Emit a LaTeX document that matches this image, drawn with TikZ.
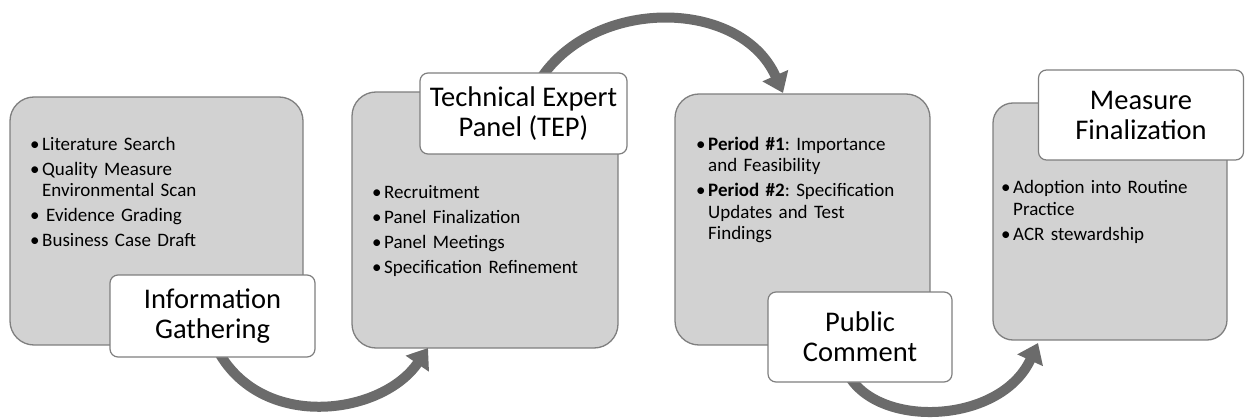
\documentclass[tikz,border=0pt]{standalone}
\usepackage{fontspec}
\setmainfont{Carlito}
\usetikzlibrary{arrows.meta}
\definecolor{boxfill}{HTML}{D2D2D2}
\definecolor{boxline}{HTML}{7F7F7F}
\definecolor{arrowgray}{HTML}{6B6B6B}
\newcommand\bitem[1]{\hangindent=12pt\hangafter=1\noindent\makebox[12pt][l]{\textbullet}#1\par}
\begin{document}
\begin{tikzpicture}[x=1pt,y=1pt,
  graybox/.style={draw=boxline,line width=1.3pt,fill=boxfill,rounded corners=24pt,inner sep=0pt},
  labelbox/.style={draw=boxline,line width=1.2pt,fill=white,rounded corners=8pt,inner sep=0pt,
     align=center,font=\fontsize{28.5}{30}\selectfont},
  bullets/.style={anchor=base west,inner sep=0pt,text width=290pt,align=left,
     font=\fontsize{19}{21.5}\selectfont\frenchspacing},
  flow/.style={line width=10pt,draw=arrowgray,-{Triangle[width=27pt,length=19pt]}}]
\useasboundingbox (0,0) rectangle (1246,418);
% gray boxes
\node[graybox,minimum width=293pt,minimum height=248pt] (box1) at (156.5,197) {};
\node[graybox,minimum width=266pt,minimum height=256pt] (box2) at (485,198) {};
\node[graybox,minimum width=255pt,minimum height=251pt] (box3) at (802.5,198.5) {};
\node[graybox,minimum width=234pt,minimum height=237pt,rounded corners=20pt] (box4) at (1110,196.5) {};
% arcs
\coordinate (a1s) at (212,80);
\coordinate (a1e) at (428,70);
\coordinate (a2s) at (535,330);
\coordinate (a2e) at (783,325);
\coordinate (a3s) at (845,50);
\coordinate (a3e) at (1038,75);
\draw[flow] (a1s) .. controls (250,-15) and (380,0) .. (a1e);
\draw[flow] (a2s) .. controls (585,422) and (740,422) .. (a2e);
\draw[flow] (a3s) .. controls (870,-12) and (1000,-8) .. (a3e);
% bullet texts
\node[bullets] (t1) at (30,267.5) {\setlength\parskip{3.5pt}\bitem{Literature Search}\bitem{Quality Measure\newline Environmental Scan}\bitem{\hspace{4pt}Evidence Grading}\bitem{Business Case Draft}};
\node[bullets] (t2) at (372,219.5) {\setlength\parskip{3.5pt}\bitem{Recruitment}\bitem{Panel Finalization}\bitem{Panel Meetings}\bitem{Specification Refinement}};
\node[bullets] (t3) at (696,267.5) {\setlength\parskip{3.5pt}\bitem{\textbf{Period \#1}: Importance\newline and Feasibility}\bitem{\textbf{Period \#2}: Specification\newline Updates and Test\newline Findings}};
\node[bullets] (t4) at (1001,224.5) {\setlength\parskip{3.5pt}\bitem{Adoption into Routine\newline Practice}\bitem{ACR stewardship}};
% labels
\node[labelbox,minimum width=205pt,minimum height=82pt] (lab1) at (212.5,102) {Information\\Gathering};
\node[labelbox,minimum width=207pt,minimum height=81pt] (lab2) at (523.5,304.5) {Technical Expert\\Panel (TEP)};
\node[labelbox,minimum width=184pt,minimum height=90pt] (lab3) at (860,81) {Public\\Comment};
\node[labelbox,minimum width=205pt,minimum height=90pt] (lab4) at (1141,303) {Measure\\Finalization};
\end{tikzpicture}
\end{document}
